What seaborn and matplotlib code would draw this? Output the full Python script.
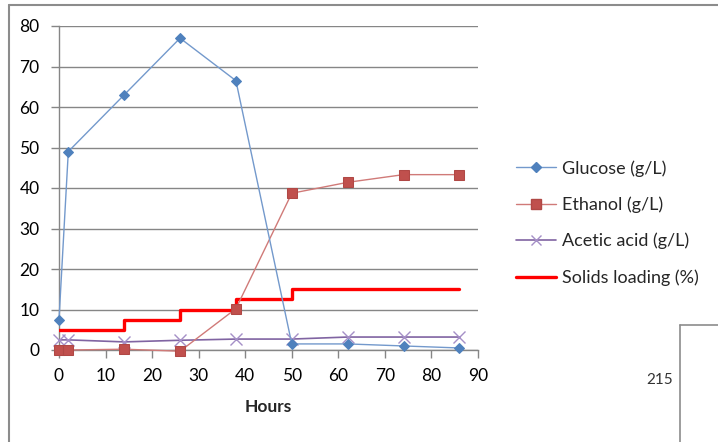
import matplotlib
matplotlib.use("Agg")
import matplotlib.pyplot as plt
import seaborn as sns
import pandas as pd
from matplotlib.lines import Line2D

hours = [0, 2, 14, 26, 38, 50, 62, 74, 86]
glucose = [7.5, 49, 63, 77, 66.5, 1.5, 1.5, 1.0, 0.5]
ethanol = [0.0, 0.0, 0.2, -0.3, 10.2, 38.7, 41.4, 43.3, 43.3]
acetic = [2.5, 2.5, 2.0, 2.4, 2.7, 2.7, 3.2, 3.2, 3.2]
solids_hours = [0, 14, 26, 38, 50, 86]
solids = [5, 7.5, 10, 12.5, 15, 15]

labels = ["Glucose (g/L)", "Ethanol (g/L)", "Acetic acid (g/L)", "Solids loading (%)"]

sns.set_theme(style="white")
plt.rcParams['font.family'] = ['Lato', 'DejaVu Sans']

fig = plt.figure(figsize=(7.18, 4.42), dpi=100)
ax = fig.add_axes([59/718, 1-350/442, (478-59)/718, (350-26)/442])

df = pd.DataFrame({"h": hours, "g": glucose, "e": ethanol, "a": acetic})
ds = pd.DataFrame({"h": solids_hours, "s": solids})

sns.lineplot(data=ds, x="h", y="s", ax=ax, color="#ff0000", lw=2.4,
             drawstyle="steps-post", sort=False, zorder=3)
sns.lineplot(data=df, x="h", y="a", ax=ax, color="#8064a2", lw=1.2,
             marker="x", markersize=8, markeredgecolor="#a58fc7", markeredgewidth=1.0,
             sort=False, zorder=4, clip_on=False)
sns.lineplot(data=df, x="h", y="e", ax=ax, color="#d07a78", lw=1.0,
             marker="s", markersize=7, markerfacecolor="#c0504d", markeredgecolor="#b04845",
             sort=False, zorder=5, clip_on=False)
sns.lineplot(data=df, x="h", y="g", ax=ax, color="#7399cc", lw=1.0,
             marker="D", markersize=5.5, markerfacecolor="#4f81bd", markeredgecolor="#4f81bd",
             sort=False, zorder=6, clip_on=False)

ax.set_xlim(0, 90)
ax.set_ylim(0, 80)
ax.set_xticks(range(0, 91, 10))
ax.set_yticks(range(0, 81, 10))
ax.yaxis.grid(True, color="#868686", lw=1.0)
ax.set_axisbelow(True)
for s in ["top", "right"]:
    ax.spines[s].set_visible(False)
for s in ["left", "bottom"]:
    ax.spines[s].set_color("#868686")
    ax.spines[s].set_linewidth(1.0)
ax.tick_params(axis="both", direction="out", length=6, width=1.0, color="#868686",
               labelsize=12.5, labelcolor="#000000")
ax.tick_params(axis="y", pad=8)
ax.tick_params(axis="x", pad=7)
ax.tick_params(left=True, bottom=True)
ax.set_xlabel("Hours", fontsize=12.5, fontweight="bold", labelpad=11)
ax.set_ylabel("")

handles = [
    Line2D([], [], color="#7399cc", lw=1.0, marker="D", markersize=5, markerfacecolor="#4f81bd", markeredgecolor="#4f81bd"),
    Line2D([], [], color="#d07a78", lw=1.0, marker="s", markersize=7, markerfacecolor="#c0504d", markeredgecolor="#b04845"),
    Line2D([], [], color="#8064a2", lw=1.2, marker="x", markersize=7, markeredgecolor="#a58fc7"),
    Line2D([], [], color="#ff0000", lw=2.4),
]
fig.legend(handles, labels, loc="center left", bbox_to_anchor=(516/718, 1-223/442),
           frameon=False, fontsize=13, handlelength=2.2, handletextpad=0.35,
           labelspacing=1.1, borderpad=0, borderaxespad=0)

# outer frame fragments
fc = "#8c8c8c"
fig.add_artist(Line2D([8.5/718, 8.5/718], [0, 1-4.5/442], transform=fig.transFigure, color=fc, lw=1.5))
fig.add_artist(Line2D([8.5/718, 1], [1-4.5/442, 1-4.5/442], transform=fig.transFigure, color=fc, lw=1.5))
fig.add_artist(Line2D([679.5/718, 679.5/718], [0, 1-325/442], transform=fig.transFigure, color=fc, lw=1.2))
fig.add_artist(Line2D([679.5/718, 1], [1-325/442, 1-325/442], transform=fig.transFigure, color=fc, lw=1.2))
fig.text(673/718, 1-380/442, "215", ha="right", va="center", fontsize=11, color="#333333")

fig.savefig("out.png", dpi=100)
